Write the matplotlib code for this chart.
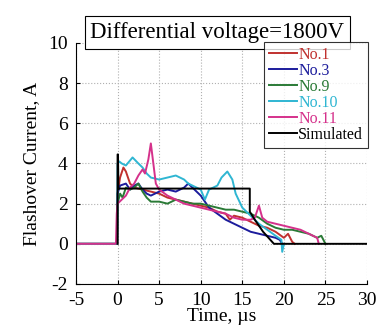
import numpy as np
import matplotlib
matplotlib.use("Agg")
import matplotlib.pyplot as plt

plt.rcParams['font.family'] = ['Liberation Serif', 'DejaVu Serif']
plt.rcParams['axes.unicode_minus'] = False

# measured traces (time in us, current in A)
t1 = [-5, -0.05, 0, 0.3, 0.7, 1, 1.5, 2, 3, 4, 5, 6, 7, 8, 9, 10, 11, 12, 13, 13.5, 14, 15, 16, 17, 18, 19, 20, 20.5, 21, 21.3]
i1 = [0, 0, 2.5, 3.3, 3.8, 3.6, 3.0, 2.8, 2.7, 2.6, 2.5, 2.3, 2.2, 2.1, 2.0, 1.9, 1.8, 1.6, 1.5, 1.2, 1.4, 1.3, 1.1, 0.9, 0.8, 0.6, 0.3, 0.5, 0.1, 0]

t3 = [-5, -0.05, 0, 0.3, 1, 1.5, 2, 2.5, 3, 3.5, 4, 5, 6, 7, 8, 8.5, 9, 10, 11, 12, 13, 14, 15, 16, 17, 18, 19, 19.5, 19.8]
i3 = [0, 0, 2.5, 2.9, 3.0, 2.7, 2.9, 3.0, 2.7, 2.5, 2.4, 2.6, 2.7, 2.6, 2.8, 3.0, 2.8, 2.4, 1.8, 1.5, 1.2, 1.0, 0.8, 0.6, 0.5, 0.4, 0.3, 0.2, 0]

t9 = [-5, -0.05, 0, 0.3, 0.6, 1, 1.5, 2, 2.5, 3, 3.5, 4, 5, 6, 7, 8, 9, 10, 11, 12, 13, 14, 15, 16, 17, 18, 19, 20, 21, 22, 23, 24, 24.5, 25]
i9 = [0, 0, 2.0, 2.5, 2.3, 2.8, 2.7, 2.8, 3.0, 2.6, 2.3, 2.1, 2.1, 2.0, 2.2, 2.1, 2.0, 2.0, 1.9, 1.8, 1.7, 1.7, 1.6, 1.5, 1.3, 1.0, 0.8, 0.7, 0.7, 0.6, 0.5, 0.3, 0.4, 0]

t10 = [-5, -0.05, 0, 0.2, 0.5, 1, 1.8, 2.5, 3, 3.5, 4, 5, 6, 7, 8, 8.5, 9, 10, 10.5, 11, 12, 12.5, 13.2, 13.8, 14.2, 15, 16, 17, 18, 19, 19.7, 19.8, 20]
i10 = [0, 0, 4.0, 4.1, 4.0, 3.9, 4.3, 4.0, 3.8, 3.5, 3.3, 3.2, 3.3, 3.4, 3.2, 3.0, 2.9, 2.7, 2.2, 2.7, 2.9, 3.3, 3.6, 3.2, 2.5, 1.8, 1.4, 1.0, 0.7, 0.4, 0.2, -0.4, 0]

t11 = [-5, -0.2, -0.1, 0, 0.5, 1, 1.5, 2, 2.5, 3, 3.3, 3.7, 4.0, 4.3, 4.6, 5, 6, 7, 8, 9, 10, 11, 12, 13, 14, 15, 16, 16.5, 17, 17.4, 18, 19, 20, 21, 22, 23, 24, 24.2]
i11 = [0, 0, 1.5, 2.0, 2.2, 2.4, 2.8, 3.0, 3.4, 3.7, 3.5, 4.2, 5.0, 4.0, 3.0, 2.7, 2.4, 2.2, 2.0, 1.9, 1.8, 1.7, 1.6, 1.5, 1.3, 1.2, 1.2, 1.3, 1.9, 1.3, 1.1, 1.0, 0.9, 0.8, 0.7, 0.5, 0.3, 0]

ts = [0, 0, 0.05, 0.1, 15.9, 15.9, 16.5, 17.5, 18.8, 30]
i_s = [0, 4.45, 4.45, 2.75, 2.75, 1.6, 1.2, 0.6, 0, 0]

series = [
    (t1, i1, '#c0312f', 'No.1'),
    (t3, i3, '#1c1c9c', 'No.3'),
    (t9, i9, '#2a7a36', 'No.9'),
    (t10, i10, '#2fb6d2', 'No.10'),
    (t11, i11, '#d5318b', 'No.11'),
    (ts, i_s, '#000000', 'Simulated'),
]

fig = plt.figure(figsize=(3.77, 3.32), dpi=100)
ax = fig.add_axes([0.2016, 0.1446, 0.772, 0.726])

for t, i, c, lab in series:
    ax.plot(t, i, color=c, lw=1.4, label=lab)

ax.set_xlim(-5, 30)
ax.set_ylim(-2, 10)
ax.set_xticks(np.arange(-5, 31, 5))
ax.set_yticks(np.arange(-2, 11, 2))
ax.grid(True, linestyle=':', color='#b0b0b0', lw=0.8)
ax.spines['top'].set_visible(False)
ax.spines['right'].set_visible(False)
ax.tick_params(labelsize=14, direction='in', length=3, width=0.8, pad=6)
ax.set_xlabel('Time, µs', fontsize=14, labelpad=-1)
ax.set_ylabel('Flashover Current, A', fontsize=14, labelpad=6)

leg = ax.legend(loc='upper right', bbox_to_anchor=(1.003, 1.003), fontsize=11.5,
                frameon=True, fancybox=False, handlelength=1.8, handletextpad=0.05,
                labelspacing=0.0, borderpad=0.3, borderaxespad=0)
leg.get_frame().set_edgecolor('black')
leg.get_frame().set_linewidth(0.8)
for txt, (_, _, c, _) in zip(leg.get_texts(), series):
    txt.set_color(c)

ax.text(0.486, 1.0, 'Differential voltage=1800V', transform=ax.transAxes,
        ha='center', va='bottom', fontsize=16.5,
        bbox=dict(boxstyle='square,pad=0.25', fc='white', ec='black', lw=0.8))

fig.savefig('out.png', dpi=100)
